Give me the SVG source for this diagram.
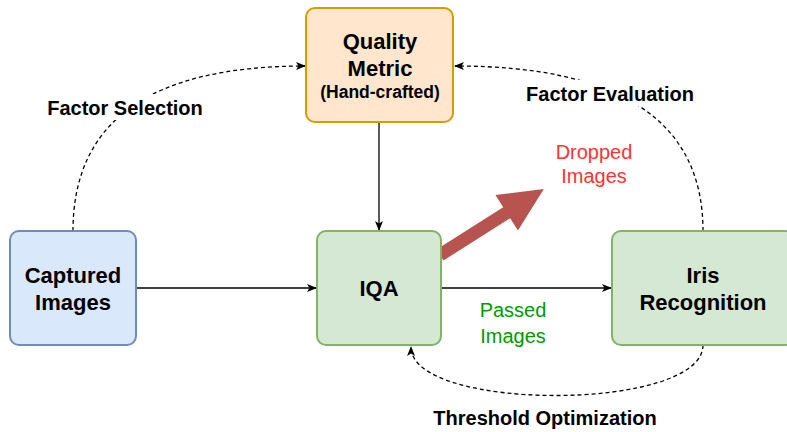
<svg xmlns="http://www.w3.org/2000/svg" width="787" height="432" viewBox="0 0 787 432">
<defs>
<style>
.box{stroke-width:2}
.blue{fill:#dae8fc;stroke:#6c8ebf}
.orange{fill:#ffe6cc;stroke:#d79b00}
.green{fill:#d5e8d4;stroke:#82b366}
.t{font-family:"Liberation Sans",Arial,sans-serif;font-weight:bold;font-size:22px;fill:#000;text-anchor:middle}
.lbl{font-family:"Liberation Sans",Arial,sans-serif;font-weight:bold;font-size:20px;fill:#000;text-anchor:middle}
.note{font-family:"Liberation Sans",Arial,sans-serif;font-size:20px;text-anchor:middle}
.solid{fill:none;stroke:#000;stroke-width:1.3}
.dash{fill:none;stroke:#000;stroke-width:1.3;stroke-dasharray:4 3}
</style>
<marker id="arr" viewBox="0 0 10 10" refX="9" refY="5" markerWidth="10" markerHeight="10" markerUnits="userSpaceOnUse" orient="auto">
<path d="M0,1 L10,5 L0,9 L2.5,5 z" fill="#000"/>
</marker>
</defs>
<g id="connectors">
<line class="solid" x1="136" y1="288" x2="316" y2="288" marker-end="url(#arr)"/>
<line class="solid" x1="441" y1="288" x2="611" y2="288" marker-end="url(#arr)"/>
<line class="solid" x1="379" y1="122" x2="379" y2="230" marker-end="url(#arr)"/>
<path class="dash" d="M73,231 Q73,66 305,66" marker-end="url(#arr)"/>
<path class="dash" d="M703,231 Q703,66 455,66" marker-end="url(#arr)"/>
<path class="dash" d="M703,345 C703,412 411,412 411,347" marker-end="url(#arr)"/>
<g transform="translate(440,255) rotate(-32.4)">
<polygon points="0,-6.5 79,-6.5 79,-21 123,0 79,21 79,6.5 0,6.5" fill="#b85450"/>
</g>
<rect x="45" y="94" width="162" height="26" fill="#fff"/>
<rect x="522" y="80" width="176" height="26" fill="#fff"/>
<text class="lbl" x="125" y="115">Factor Selection</text>
<text class="lbl" x="610" y="101">Factor Evaluation</text>
<text class="lbl" x="545" y="425">Threshold Optimization</text>
<text class="note" fill="#ff3333" x="594" y="159">Dropped</text>
<text class="note" fill="#ff3333" x="594" y="183">Images</text>
<text class="note" fill="#009900" x="513" y="317">Passed</text>
<text class="note" fill="#009900" x="513" y="343">Images</text>
</g>
<g id="quality">
<rect class="box orange" x="306" y="8" width="147" height="114" rx="9"/>
<text class="t" x="380" y="49">Quality</text>
<text class="t" x="380" y="76">Metric</text>
<text class="t" x="380" y="98" style="font-size:17.5px">(Hand-crafted)</text>
</g>
<g id="captured">
<rect class="box blue" x="10" y="231" width="126" height="114" rx="9"/>
<text class="t" x="73" y="283">Captured</text>
<text class="t" x="73" y="310">Images</text>
</g>
<g id="iqa">
<rect class="box green" x="317" y="231" width="124" height="114" rx="9"/>
<text class="t" x="379" y="296">IQA</text>
</g>
<g id="iris">
<rect class="box green" x="612" y="231" width="182" height="114" rx="9"/>
<text class="t" x="703" y="283">Iris</text>
<text class="t" x="703" y="310">Recognition</text>
</g>
</svg>
